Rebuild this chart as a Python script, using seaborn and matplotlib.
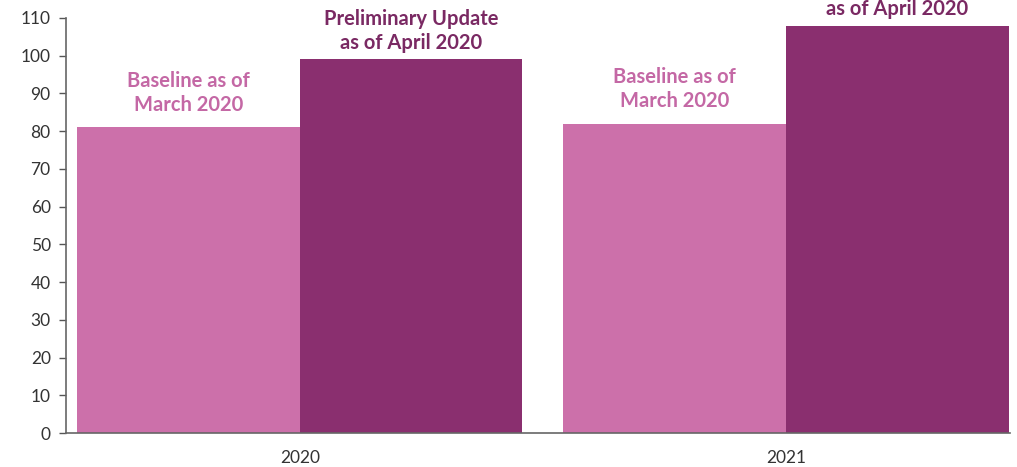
import matplotlib
matplotlib.use("Agg")
import matplotlib.pyplot as plt
import seaborn as sns
import pandas as pd

years = ["2020", "2021"]
series = ["Baseline as of\nMarch 2020", "Preliminary Update\nas of April 2020"]
baseline = [81, 82]
preliminary = [99, 108]
yticks = list(range(0, 111, 10))

colors = ["#CC70AA", "#8A2F6F"]
label_colors = ["#C468A5", "#7A2963"]
label_offsets = [9, 5]

df = pd.DataFrame({
    "year": years * 2,
    "series": [series[0]] * 2 + [series[1]] * 2,
    "value": baseline + preliminary,
})

sns.set_theme(style="white")
plt.rcParams["font.family"] = ["Lato", "DejaVu Sans"]

fig = plt.figure(figsize=(10.17, 4.67), dpi=100)
ax = fig.add_axes([0.0649, 0.0728, 0.9283, 0.8887])

sns.barplot(data=df, x="year", y="value", hue="series", order=years,
            hue_order=series, palette=colors, width=0.916, saturation=1,
            legend=False, ax=ax, linewidth=0)

ax.set_ylim(0, 110)
ax.set_xlim(-0.481, 1.461)
ax.set_yticks(yticks)
ax.set_yticklabels([str(t) for t in yticks], fontsize=12.5, color="#333333")
ax.set_xlabel("")
ax.set_ylabel("")
ax.tick_params(axis="x", length=0, pad=12, labelsize=12.5, labelcolor="#333333")
ax.tick_params(axis="y", length=5, width=1, color="#555555", left=True, pad=6)
for s in ["top", "right"]:
    ax.spines[s].set_visible(False)
for s in ["left", "bottom"]:
    ax.spines[s].set_color("#666666")
    ax.spines[s].set_linewidth(1.2)

# annotate each bar with its series label
for container, col, lab, off in zip(ax.containers, label_colors, series, label_offsets):
    for bar in container:
        cx = bar.get_x() + bar.get_width() / 2
        top = bar.get_height()
        ax.annotate(lab, (cx, top), xytext=(0, off), textcoords="offset points",
                    ha="center", va="bottom", fontsize=14.5, fontweight="bold",
                    color=col, linespacing=1.25, annotation_clip=False)

fig.savefig("out.png", dpi=100)
